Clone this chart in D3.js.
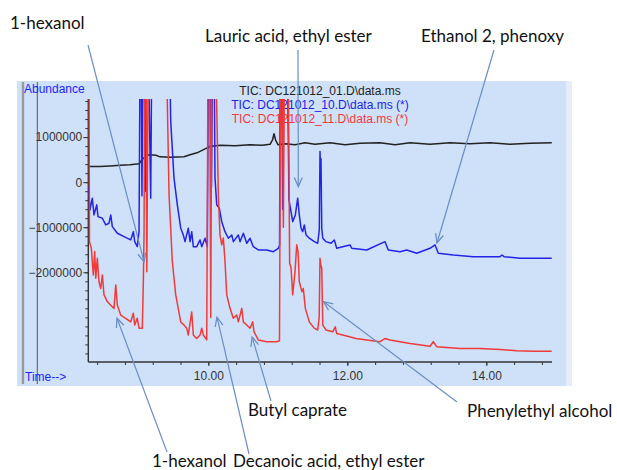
<!DOCTYPE html>
<html>
<head>
<meta charset="utf-8">
<script src="https://cdn.jsdelivr.net/npm/d3@7"></script>
<style>
  body { margin: 0; background: #fff; }
  svg { display: block; }
</style>
</head>
<body>
<svg id="chart"></svg>
<script>
// chromatogram traces: [retention time (min), abundance]
// values above the y range are saturated peaks (clipped at the top)
const seriesLabels = [
  "TIC: DC121012_01.D\\data.ms",
  "TIC: DC121012_10.D\\data.ms (*)",
  "TIC: DC121012_11.D\\data.ms (*)",
];

const tic01 = [
  [8.273, 347000], [8.442, 350000], [8.586, 360000], [8.730, 373000], [8.874, 384000],
  [9.003, 407000], [9.046, 496000], [9.104, 584000], [9.146, 607000], [9.247, 596000],
  [9.305, 562000], [9.449, 551000], [9.650, 562000], [9.737, 607000], [9.837, 651000],
  [9.953, 740000], [10.024, 791000], [10.168, 818000], [10.384, 807000], [10.600, 829000],
  [10.773, 818000], [10.888, 840000], [10.924, 940000], [10.945, 1073000], [10.967, 940000],
  [11.003, 829000], [11.104, 851000], [11.248, 829000], [11.391, 873000], [11.535, 840000],
  [11.751, 873000], [11.967, 829000], [12.183, 862000], [12.471, 873000], [12.687, 829000],
  [12.902, 873000], [13.190, 840000], [13.478, 873000], [13.765, 851000], [14.053, 873000],
  [14.341, 840000], [14.629, 862000], [14.941, 873000],
];

const tic10 = [
  [8.276, -100000], [8.297, -616000], [8.331, -356000], [8.355, -727000], [8.394, -504000],
  [8.413, -764000], [8.475, -800000], [8.524, -949000], [8.571, -911000], [8.596, -727000],
  [8.619, -987000], [8.691, -1133000], [8.787, -1209000], [8.883, -1282000], [8.921, -1098000],
  [8.941, -1320000], [8.978, -1431000], [9.003, -1100000], [9.017, 2600000], [9.035, 2600000],
  [9.045, -300000], [9.060, 2600000], [9.080, 2600000], [9.095, -200000], [9.110, 2600000],
  [9.140, 2600000], [9.171, -356000], [9.185, 2600000], [9.445, 2600000], [9.459, 1347000],
  [9.506, 96000], [9.554, -504000], [9.603, -1022000], [9.640, -1171000], [9.665, -1320000],
  [9.712, -1022000], [9.737, -1320000], [9.761, -1098000], [9.784, -1431000], [9.833, -1431000],
  [9.881, -1282000], [9.905, -1431000], [9.953, -1244000], [9.986, -1431000], [10.000, 2600000],
  [10.020, 2600000], [10.045, -100000], [10.060, 2600000], [10.085, 2600000], [10.096, 91000],
  [10.121, -504000], [10.158, -578000], [10.193, -876000], [10.240, -1098000], [10.288, -1244000],
  [10.337, -1171000], [10.360, -1320000], [10.432, -1171000], [10.456, -1320000], [10.504, -1133000],
  [10.553, -1356000], [10.600, -1244000], [10.647, -1431000], [10.719, -1504000], [10.840, -1504000],
  [10.935, -1542000], [11.007, -1467000], [11.025, -1400000], [11.035, 2600000], [11.055, 2600000],
  [11.070, -600000], [11.085, 2600000], [11.140, 2600000], [11.160, -393000], [11.190, -653000],
  [11.214, -876000], [11.252, -727000], [11.286, -356000], [11.309, -727000], [11.334, -1022000],
  [11.358, -1098000], [11.381, -949000], [11.406, -1171000], [11.453, -1244000], [11.525, -1320000],
  [11.574, -1356000], [11.597, -1050000], [11.607, 680000], [11.614, 300000], [11.621, 520000],
  [11.632, -1022000], [11.647, -1244000], [11.694, -1320000], [11.765, -1356000], [11.813, -1282000],
  [11.847, -1467000], [11.934, -1431000], [12.039, -1393000], [12.063, -1467000], [12.279, -1504000],
  [12.542, -1320000], [12.590, -1504000], [12.758, -1542000], [12.855, -1504000], [12.999, -1578000],
  [13.190, -1467000], [13.262, -1393000], [13.309, -1578000], [13.525, -1616000], [13.813, -1653000],
  [14.197, -1653000], [14.226, -1616000], [14.255, -1653000], [14.485, -1689000], [14.941, -1689000],
];

const tic11 = [
  [8.273, 2600000], [8.283, 2600000], [8.290, -1320000], [8.317, -1470000], [8.345, -2060000],
  [8.365, -1540000], [8.380, -2130000], [8.403, -1690000], [8.427, -2210000], [8.452, -2360000],
  [8.475, -2060000], [8.499, -2500000], [8.547, -2650000], [8.596, -2730000], [8.643, -2800000],
  [8.668, -2280000], [8.691, -2730000], [8.740, -2950000], [8.812, -3020000], [8.883, -3100000],
  [8.921, -2910000], [8.941, -3170000], [8.978, -3020000], [9.003, -3240000], [9.050, -3240000],
  [9.065, -2210000], [9.075, -1170000], [9.085, 2600000], [9.105, 2600000], [9.115, -1990000],
  [9.135, 2600000], [9.400, 2600000], [9.435, -280000], [9.482, -1760000], [9.531, -2500000],
  [9.603, -3100000], [9.650, -3170000], [9.689, -3240000], [9.712, -3390000], [9.761, -2880000],
  [9.784, -3390000], [9.833, -3470000], [9.881, -3390000], [9.905, -3240000], [9.928, -3390000],
  [9.977, -3500000], [9.995, 2600000], [10.020, 2600000], [10.035, -3000000], [10.050, 2600000],
  [10.110, 2600000], [10.144, -280000], [10.168, -1170000], [10.193, -1390000], [10.216, -1240000],
  [10.240, -1760000], [10.265, -2500000], [10.312, -2800000], [10.360, -3020000], [10.409, -2950000],
  [10.432, -3100000], [10.481, -2800000], [10.504, -3100000], [10.553, -3170000], [10.600, -3240000],
  [10.639, -3100000], [10.658, -3320000], [10.719, -3500000], [10.840, -3540000], [10.984, -3540000],
  [11.024, -3520000], [11.040, 2600000], [11.065, 2600000], [11.080, -1000000], [11.095, 2600000],
  [11.150, 2600000], [11.170, -1800000], [11.190, -1900000], [11.214, -2500000], [11.247, -1990000],
  [11.272, -1390000], [11.291, -1540000], [11.309, -2210000], [11.348, -2430000], [11.367, -2360000],
  [11.396, -2800000], [11.453, -3100000], [11.525, -3240000], [11.574, -3280000], [11.595, -3000000],
  [11.607, -1690000], [11.620, -1850000], [11.632, -1910000], [11.647, -3170000], [11.694, -3280000],
  [11.790, -3320000], [11.827, -3210000], [11.847, -3360000], [11.934, -3390000], [12.125, -3470000],
  [12.279, -3500000], [12.471, -3540000], [12.542, -3470000], [12.614, -3500000], [12.902, -3580000],
  [13.190, -3640000], [13.237, -3540000], [13.286, -3650000], [13.621, -3690000], [13.909, -3690000],
  [14.197, -3710000], [14.437, -3740000], [14.676, -3750000], [14.941, -3750000],
];

const yLabelValues = [1000000, 0, -1000000, -2000000];
const xLabelValues = [10, 12, 14];

// peak annotations: name and the peak (time, abundance) the arrow points at
const peakNames = [
  "1-hexanol", "Lauric acid, ethyl ester", "Ethanol 2, phenoxy",
  "Butyl caprate", "Phenylethyl alcohol", "1-hexanol", "Decanoic acid, ethyl ester",
];
const peakTargets = [
  [9.076, -1771000], [11.295, -98000], [13.290, -1349000],
  [10.631, -3438000], [11.660, -2652000], [8.686, -3018000], [10.125, -2996000],
];

const W = 617, H = 470;
const plot = { left: 88.3, right: 552, top: 99, bottom: 362 };
const colors = ["#222222", "#2323e6", "#f03a3a"];
const axisFont = "'Liberation Sans', Arial, sans-serif";
const noteFont = "Lato, 'Open Sans', sans-serif";

// label anchor (text) and arrow start, in page pixels
const noteLayout = [
  { tx: 10, ty: 29, sx: 88, sy: 45 },
  { tx: 205, ty: 42, sx: 298, sy: 50 },
  { tx: 421, ty: 42, sx: 494, sy: 50 },
  { tx: 248, ty: 416, sx: 271, sy: 401 },
  { tx: 467, ty: 417, sx: 457, sy: 402 },
  { tx: 152, ty: 467, sx: 167, sy: 452 },
  { tx: 233, ty: 467, sx: 249, sy: 454 },
];

const svg = d3.select("#chart").attr("width", W).attr("height", H);

const x = d3.scaleLinear().domain([8.273, 14.945]).range([plot.left, plot.right]);
const y = d3.scaleLinear().domain([-3990000, 1845000]).range([plot.bottom, plot.top]);

// panel
svg.append("rect")
  .attr("x", 17).attr("y", 81).attr("width", 555).attr("height", 305)
  .attr("fill", "#cfe1f9");
svg.append("rect")
  .attr("x", 566).attr("y", 81).attr("width", 6).attr("height", 305)
  .attr("fill", "#e3edfb");
svg.append("line")
  .attr("x1", 23).attr("x2", 23).attr("y1", 82).attr("y2", 384)
  .attr("stroke", "#999").attr("stroke-width", 2.4);
svg.append("line")
  .attr("x1", 37.3).attr("x2", 37.3).attr("y1", 82).attr("y2", 384)
  .attr("stroke", "#555").attr("stroke-width", 1);

svg.append("text")
  .attr("x", 24).attr("y", 93)
  .attr("font-family", axisFont).attr("font-size", 12)
  .attr("fill", "#1f1fff").text("Abundance");
svg.append("text")
  .attr("x", 25).attr("y", 381)
  .attr("font-family", axisFont).attr("font-size", 12)
  .attr("fill", "#1f1fff").text("Time-->");

// legend (drawn under the traces, like the original)
svg.append("g")
  .selectAll("text")
  .data(seriesLabels)
  .join("text")
  .attr("x", 320)
  .attr("y", (d, i) => 95 + i * 14)
  .attr("text-anchor", "middle")
  .attr("font-family", axisFont)
  .attr("font-size", 12)
  .attr("fill", (d, i) => colors[i])
  .text((d) => d);

// axes
const yMinor = svg.append("g")
  .attr("transform", `translate(${plot.left},0)`)
  .call(d3.axisLeft(y)
    .tickValues(d3.range(-3800000, 1800001, 200000))
    .tickSize(3).tickFormat(""));
const yMajor = svg.append("g")
  .attr("transform", `translate(${plot.left},0)`)
  .call(d3.axisLeft(y)
    .tickValues(yLabelValues)
    .tickSize(5).tickPadding(1)
    .tickFormat(d3.format("d")));
const xMinor = svg.append("g")
  .attr("transform", `translate(0,${plot.bottom})`)
  .call(d3.axisBottom(x)
    .tickValues(d3.range(8.4, 14.81, 0.4))
    .tickSize(3).tickFormat(""));
const xMajor = svg.append("g")
  .attr("transform", `translate(0,${plot.bottom})`)
  .call(d3.axisBottom(x)
    .tickValues(xLabelValues)
    .tickSize(4).tickPadding(5)
    .tickFormat(d3.format(".2f")));

[yMinor, yMajor, xMinor, xMajor].forEach((g) => {
  g.select(".domain").attr("stroke", "#333").attr("stroke-width", 1.4);
  g.selectAll(".tick line").attr("stroke", "#333");
  g.selectAll("text")
    .attr("font-family", axisFont)
    .attr("font-size", 12)
    .attr("fill", "#333");
});
xMinor.select(".domain").attr("d", `M${plot.left},0H${plot.right}`);
xMajor.select(".domain").remove();
yMajor.select(".domain").remove();
yMinor.select(".domain").attr("d", `M0,${plot.top}V${plot.bottom}`);

// traces
svg.append("clipPath").attr("id", "plot-clip")
  .append("rect")
  .attr("x", plot.left).attr("y", plot.top)
  .attr("width", plot.right - plot.left).attr("height", plot.bottom - plot.top);

const line = d3.line().x((d) => x(d[0])).y((d) => y(d[1]));

svg.append("g")
  .attr("clip-path", "url(#plot-clip)")
  .selectAll("path")
  .data([tic01, tic10, tic11])
  .join("path")
  .attr("d", line)
  .attr("fill", "none")
  .attr("stroke", (d, i) => colors[i])
  .attr("stroke-width", 1.5)
  .attr("stroke-linejoin", "round");

// annotations
const arrowColor = "#6a8fc6";
svg.append("defs").append("marker")
  .attr("id", "vhead")
  .attr("viewBox", "-10 -6 12 12")
  .attr("refX", 0).attr("refY", 0)
  .attr("markerWidth", 12).attr("markerHeight", 12)
  .attr("markerUnits", "userSpaceOnUse")
  .attr("orient", "auto")
  .append("path")
  .attr("d", "M-9,-4L0,0L-9,4")
  .attr("fill", "none")
  .attr("stroke", arrowColor)
  .attr("stroke-width", 1.3);

const notes = svg.append("g");
notes.selectAll("line")
  .data(peakTargets)
  .join("line")
  .attr("x1", (d, i) => noteLayout[i].sx)
  .attr("y1", (d, i) => noteLayout[i].sy)
  .attr("x2", (d) => x(d[0]))
  .attr("y2", (d) => y(d[1]))
  .attr("stroke", arrowColor)
  .attr("stroke-width", 1.2)
  .attr("marker-end", "url(#vhead)");

notes.selectAll("text")
  .data(peakNames)
  .join("text")
  .attr("x", (d, i) => noteLayout[i].tx)
  .attr("y", (d, i) => noteLayout[i].ty)
  .attr("font-family", noteFont)
  .attr("font-size", 17)
  .attr("fill", "#111")
  .text((d) => d);
</script>
</body>
</html>
